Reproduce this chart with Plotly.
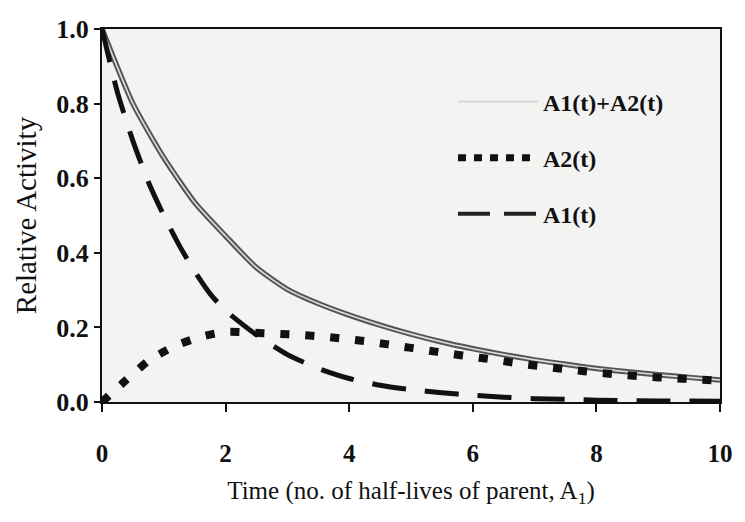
import plotly.graph_objects as go

# Time (no. of half-lives of parent)
t_total = [0, 0.5, 1.0, 1.5, 2.0, 2.5, 3.0, 3.5, 4.0, 4.5, 5.0, 5.5, 6.0, 6.5, 7.0, 7.5, 8.0, 8.5, 9.0, 9.5, 10]
a_total = [1.0, 0.80, 0.655, 0.535, 0.445, 0.36, 0.302, 0.264, 0.233, 0.206, 0.182, 0.161, 0.143, 0.127, 0.113, 0.101, 0.09, 0.081, 0.073, 0.066, 0.059]

t_a1 = [0, 0.25, 0.5, 0.75, 1.0, 1.25, 1.5, 1.75, 2.0, 2.5, 3.0, 3.5, 4.0, 4.5, 5.0, 5.5, 6.0, 6.5, 7.0, 7.5, 8.0, 9.0, 10]
a1 = [1.0, 0.83, 0.70, 0.59, 0.50, 0.42, 0.35, 0.29, 0.245, 0.18, 0.127, 0.09, 0.063, 0.045, 0.033, 0.025, 0.018, 0.013, 0.009, 0.007, 0.005, 0.003, 0.002]

t_a2 = [0, 0.4, 0.75, 1.15, 1.6, 2.0, 2.4, 2.8, 3.2, 3.6, 4.0, 4.4, 4.8, 5.2, 5.6, 6.0, 6.4, 6.8, 7.2, 7.6, 8.0, 8.4, 8.8, 9.2, 9.6, 10]
a2 = [0, 0.06, 0.11, 0.148, 0.175, 0.188, 0.186, 0.183, 0.18, 0.175, 0.168, 0.16, 0.15, 0.14, 0.13, 0.121, 0.112, 0.102, 0.094, 0.086, 0.079, 0.073, 0.068, 0.064, 0.061, 0.057]

names = ["A1(t)+A2(t)", "A2(t)", "A1(t)"]
x_ticks = [0, 2, 4, 6, 8, 10]
y_ticks = [0.0, 0.2, 0.4, 0.6, 0.8, 1.0]

SERIF = "Liberation Serif, Times New Roman, serif"

fig = go.Figure()

# total: double line (dark outline with light centre)
fig.add_trace(go.Scatter(x=t_total, y=a_total, mode="lines", showlegend=False,
                         line=dict(color="#555555", width=5.5, shape="spline", smoothing=0.6),
                         hoverinfo="skip"))
fig.add_trace(go.Scatter(x=t_total, y=a_total, mode="lines", showlegend=False,
                         line=dict(color="#dedede", width=1.6, shape="spline", smoothing=0.6),
                         hoverinfo="skip"))
# A1 dashed
fig.add_trace(go.Scatter(x=t_a1, y=a1, mode="lines", showlegend=False,
                         line=dict(color="#111111", width=5, dash="34px,19px",
                                   shape="spline", smoothing=0.6)))
# A2 square dots
fig.add_trace(go.Scatter(x=t_a2, y=a2, mode="lines", showlegend=False,
                         line=dict(color="#111111", width=8, dash="9px,16px",
                                   shape="spline", smoothing=0.6)))

# legend entries
fig.add_trace(go.Scatter(x=[None], y=[None], mode="lines", name=names[0], legendgroup="g1",
                         line=dict(color="#cfcfcf", width=1.5)))
fig.add_trace(go.Scatter(x=[None], y=[None], mode="lines", name=names[1], legendgroup="g2",
                         line=dict(color="#111111", width=7, dash="8px,8px")))
fig.add_trace(go.Scatter(x=[None], y=[None], mode="lines", name=names[2], legendgroup="g3",
                         line=dict(color="#222222", width=4, dash="32px,14px")))

fig.update_layout(
    width=745, height=522,
    margin=dict(l=102, r=12, t=29, b=120),
    paper_bgcolor="white",
    plot_bgcolor="#f3f3f2",
    font=dict(family=SERIF, color="#111111", size=21),
    legend=dict(x=0.568, y=0.865, xanchor="left", yanchor="top",
                bgcolor="rgba(0,0,0,0)",
                font=dict(family=SERIF, size=24, color="#111111", weight="bold"),
                traceorder="grouped", tracegroupgap=22, itemwidth=80),
    xaxis=dict(range=[0, 10], tickvals=x_ticks, ticktext=[str(v) for v in x_ticks],
               showline=True, linecolor="#111111", linewidth=2, mirror=True,
               ticks="outside", ticklen=8, tickwidth=1.5, tickcolor="#111111",
               ticklabelstandoff=20, showgrid=False, zeroline=False,
               tickfont=dict(family=SERIF, size=25, weight="bold"),
               title=dict(text="Time (no. of half-lives of parent, A<sub>1</sub>)",
                          font=dict(family=SERIF, size=25), standoff=15)),
    yaxis=dict(range=[0, 1], tickvals=y_ticks, ticktext=[f"{v:.1f}" for v in y_ticks],
               showline=True, linecolor="#111111", linewidth=2, mirror=True,
               ticks="outside", ticklen=6, tickwidth=1.5, tickcolor="#111111",
               showgrid=False, zeroline=False,
               tickfont=dict(family=SERIF, size=26, weight="bold"),
               title=dict(text="Relative Activity", font=dict(family=SERIF, size=29), standoff=11)),
)

fig.write_html("out.html")
